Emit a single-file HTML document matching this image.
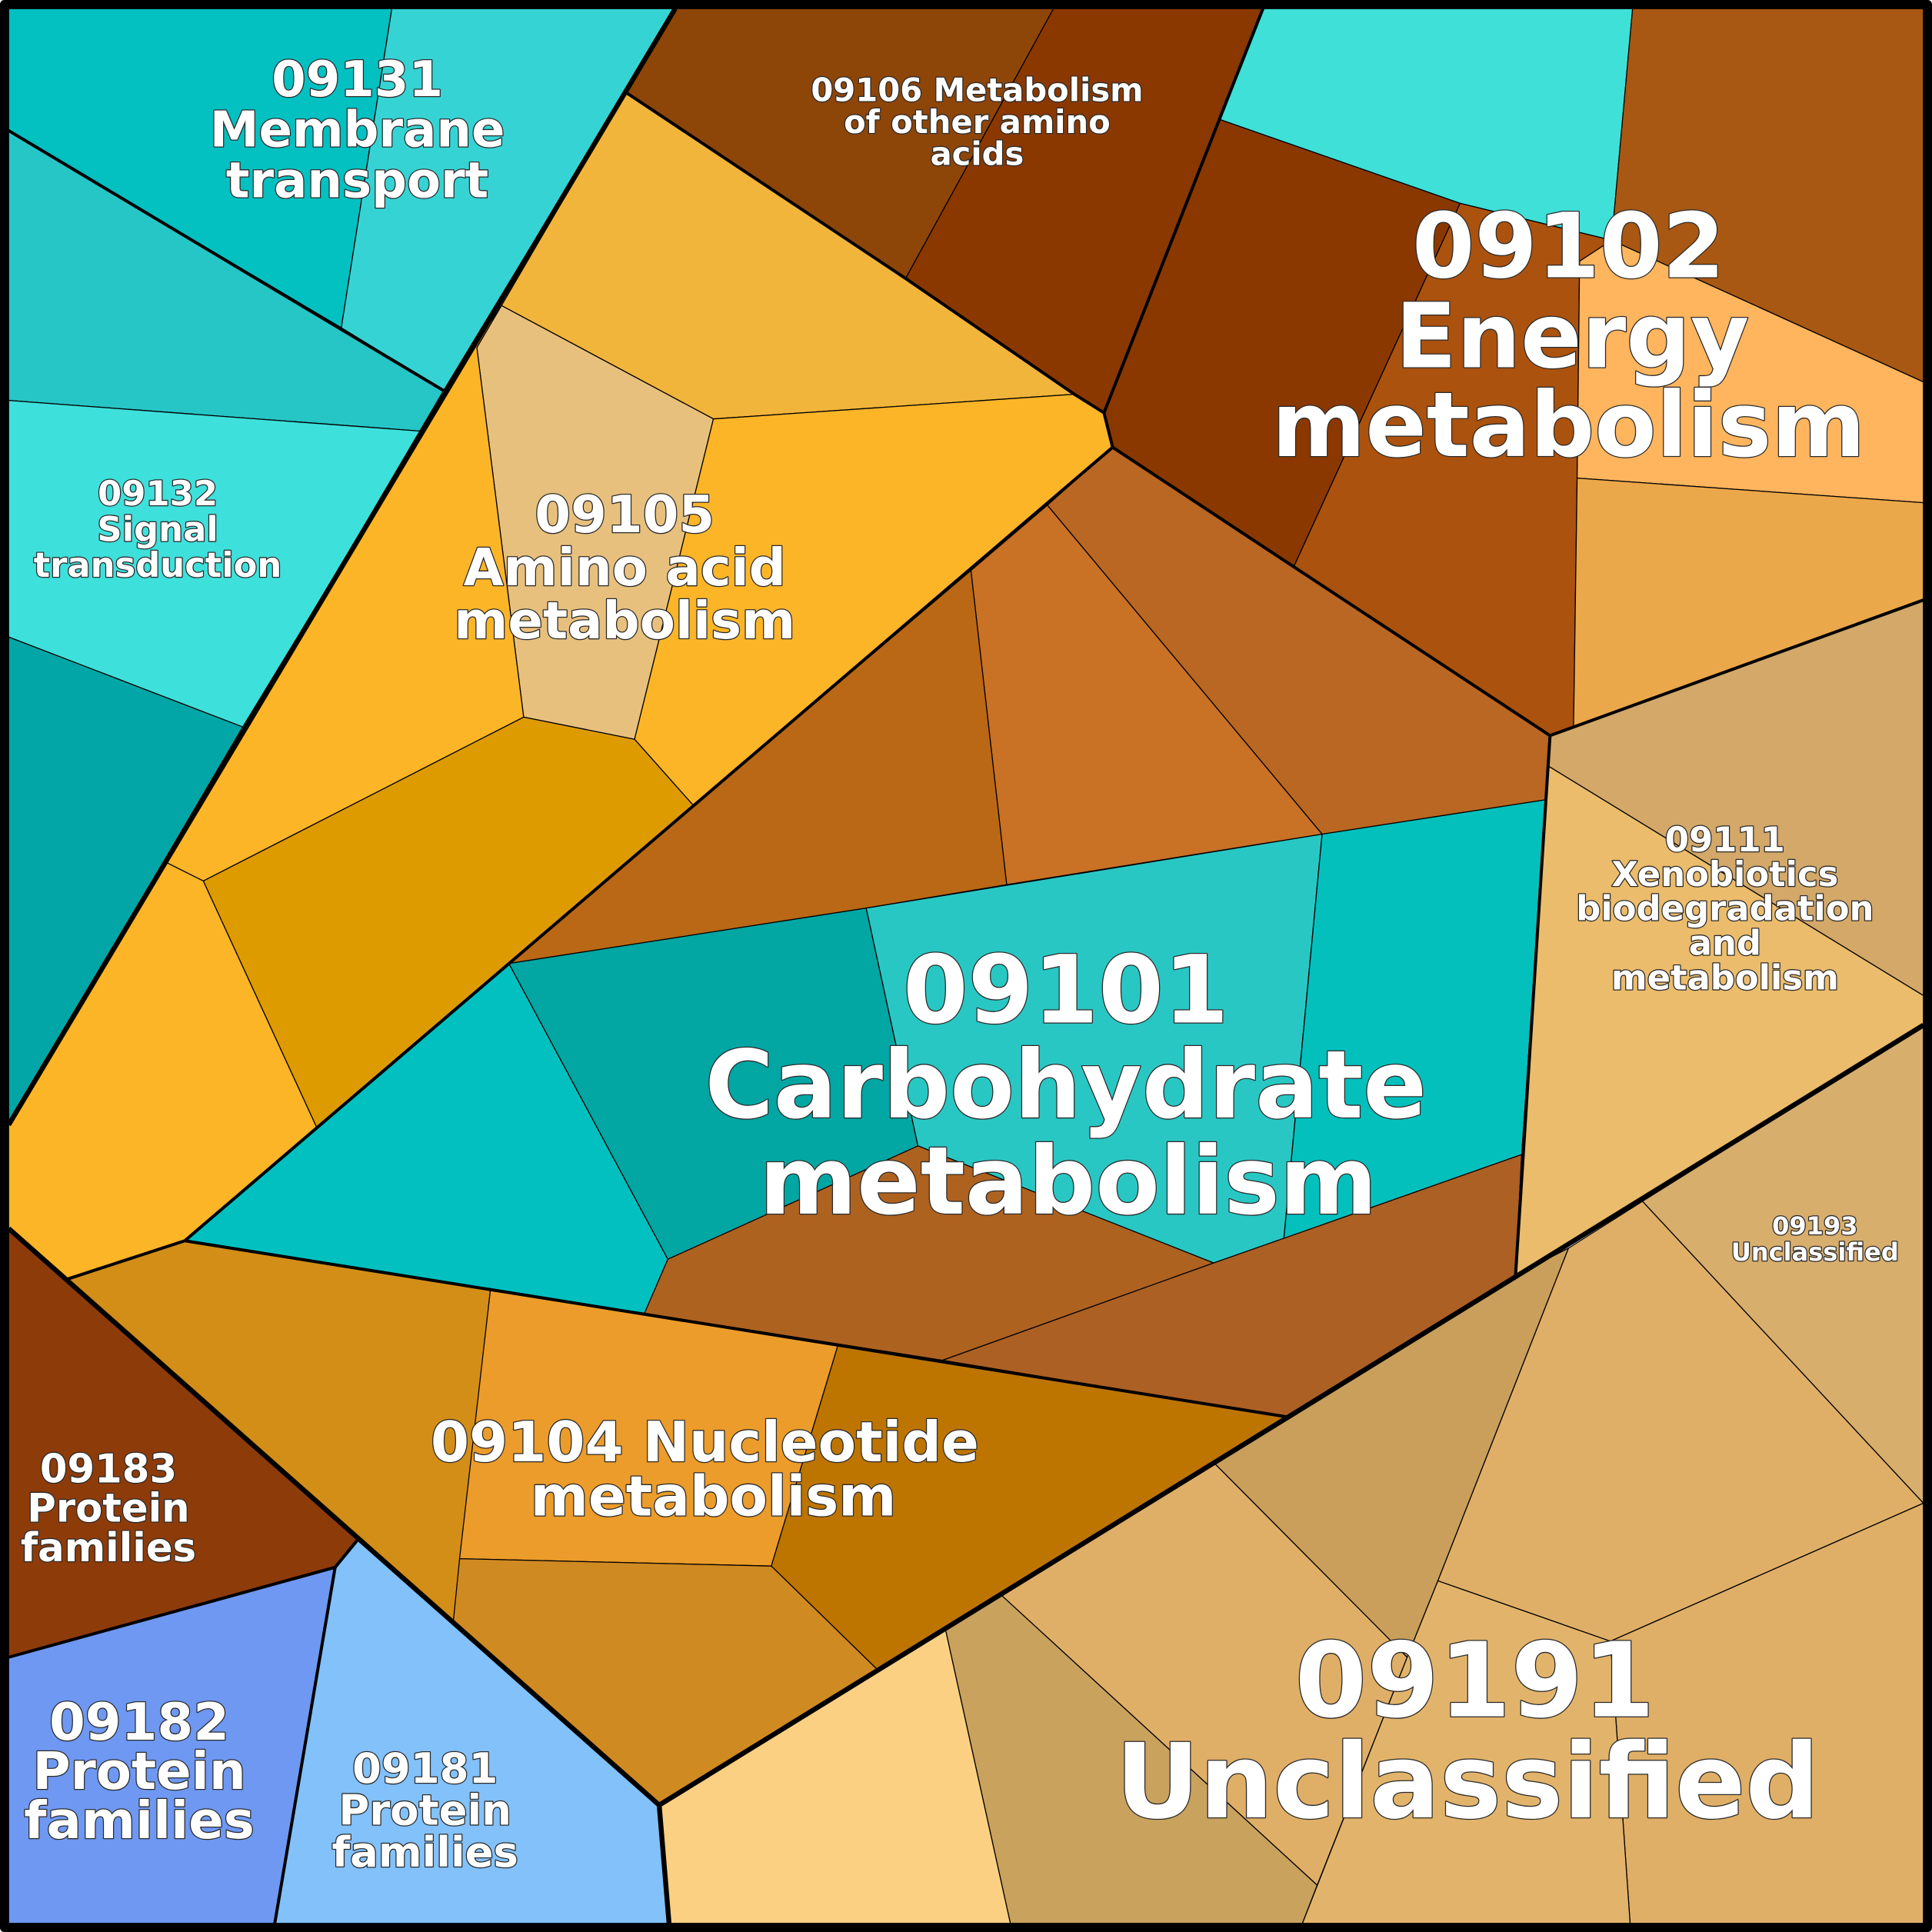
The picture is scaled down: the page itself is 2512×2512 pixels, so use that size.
<!DOCTYPE html>
<html><head><meta charset="utf-8"><style>
html,body{margin:0;padding:0;background:#fff}
svg{display:block}
text{font-family:"DejaVu Sans","Liberation Sans",sans-serif;font-weight:bold;fill:#fff;text-anchor:middle;paint-order:stroke;stroke:#2a2a2a;stroke-width:1.6;stroke-linejoin:round}
</style></head><body>
<svg width="2512" height="2512" viewBox="0 0 1568 1568" xmlns="http://www.w3.org/2000/svg">
<g stroke="#000" stroke-width="0.8" stroke-linejoin="round">
<polygon fill="#03c0c1" points="7,7 318,7 277,266 7,106"/>
<polygon fill="#36d3d4" points="318,7 548,7 360,317 277,266"/>
<polygon fill="#26c6c6" points="7,106 277,266 360,317 343,350 7,325"/>
<polygon fill="#3ee0db" points="7,325 343,350 197,590 7,517"/>
<polygon fill="#02a6a6" points="7,517 197,590 7,913"/>
<polygon fill="#8e4508" points="548,7 855,7 735,226 508,75"/>
<polygon fill="#8a3800" points="855,7 1025,7 896,335 872,320 735,226"/>
<polygon fill="#f2b53b" points="508,75 735,226 872,320 579,340 407,248"/>
<polygon fill="#e8c07e" points="407,248 579,340 515,600 425,582 387,282"/>
<polygon fill="#fdb528" points="407,248 387,282 425,582 165,715 135,700 360,317"/>
<polygon fill="#fdb528" points="579,340 872,320 896,335 903,363 563,654 515,600"/>
<polygon fill="#de9b00" points="425,582 515,600 563,654 257,915 165,715"/>
<polygon fill="#fdb528" points="135,700 165,715 257,915 150,1007 55,1038 7,997 7,913"/>
<polygon fill="#3ee0d8" points="1025,7 1325,7 1308,195 1185,165 990,97"/>
<polygon fill="#8a3800" points="990,97 1185,165 1050,460 903,363 896,335"/>
<polygon fill="#ab520f" points="1185,165 1308,195 1282,212 1280,388 1277,597 1258,597 1050,460"/>
<polygon fill="#a85812" points="1325,7 1561,7 1561,310 1308,195"/>
<polygon fill="#ffb55e" points="1308,195 1561,310 1561,408 1280,388 1282,212"/>
<polygon fill="#eba84a" points="1280,388 1561,408 1561,487 1277,597"/>
<polygon fill="#b96722" points="903,363 1050,460 1258,597 1255,649 1073,677 850,410"/>
<polygon fill="#c97125" points="850,410 1073,677 817,718 788,463"/>
<polygon fill="#ba6815" points="788,463 817,718 703,737 413,782 563,654"/>
<polygon fill="#02a6a3" points="413,782 703,737 745,930 542,1022"/>
<polygon fill="#29c7c4" points="703,737 1073,677 1042,1005 985,1025 820,960 745,930"/>
<polygon fill="#03c0bd" points="1073,677 1255,649 1235,937 1042,1005"/>
<polygon fill="#03c0c0" points="150,1007 257,915 413,782 542,1022 523,1066"/>
<polygon fill="#ae6220" points="542,1022 745,930 985,1025 765,1104 523,1066"/>
<polygon fill="#ad6023" points="765,1104 985,1025 1042,1005 1235,937 1230,1035 1045,1150"/>
<polygon fill="#d3a868" points="1258,597 1561,487 1561,808 1257,622"/>
<polygon fill="#ebbc6c" points="1257,622 1561,808 1561,832 1230,1035 1235,937 1255,649"/>
<polygon fill="#d8ae6d" points="1333,975 1561,832 1561,1220"/>
<polygon fill="#c99f5b" points="1045,1150 1230,1035 1273,1013 1167,1283 1142,1345 985,1187"/>
<polygon fill="#e0af67" points="1273,1013 1333,975 1561,1220 1307,1332 1167,1283"/>
<polygon fill="#e0af67" points="1307,1332 1561,1220 1561,1561 1323,1561"/>
<polygon fill="#e2b46b" points="1167,1283 1307,1332 1323,1561 1057,1561 1142,1345"/>
<polygon fill="#e0af67" points="812,1294 985,1187 1142,1345 1069,1530"/>
<polygon fill="#c9a25e" points="767,1321 812,1294 1069,1530 1057,1561 820,1561"/>
<polygon fill="#fbd083" points="535,1465 767,1321 820,1561 543,1561"/>
<polygon fill="#d38e17" points="55,1038 150,1007 398,1047 368,1315 290,1250"/>
<polygon fill="#ec9c2a" points="398,1047 680,1092 626,1271 373,1265"/>
<polygon fill="#bd7500" points="680,1092 1045,1150 712,1355 626,1271"/>
<polygon fill="#d08a22" points="373,1265 626,1271 712,1355 535,1465 368,1315"/>
<polygon fill="#8e3b0a" points="7,997 55,1038 290,1250 272,1272 7,1345"/>
<polygon fill="#6e98f2" points="7,1345 272,1272 223,1561 7,1561"/>
<polygon fill="#82c1fa" points="272,1272 290,1250 535,1465 543,1561 223,1561"/>
</g>
<g fill="none" stroke="#000" stroke-width="2.5" stroke-linejoin="round">
<polyline points="7,106 360,317"/>
<polyline points="508,75 735,226 872,320 896,335 903,363 1050,460 1258,597 1230,1035"/>
<polyline points="1025,7 896,335"/>
<polyline points="903,363 150,1007 55,1038"/>
<polyline points="1258,597 1561,487"/>
<polyline points="150,1007 1045,1150"/>
<polyline points="290,1250 272,1272 223,1561"/>
<polyline points="7,1345 272,1272"/>
</g>
<g fill="none" stroke="#000" stroke-width="4" stroke-linejoin="round">
<polyline points="548,7 7,913"/>
<polyline points="7,997 535,1465 543,1561"/>
<polyline points="535,1465 1561,832"/>
<rect x="3.5" y="3.5" width="1561" height="1561" stroke-width="7"/>
</g>
<text font-size="40"><tspan x="290" y="78">09131</tspan><tspan x="290" y="119">Membrane</tspan><tspan x="290" y="160">transport</tspan></text>
<text font-size="26"><tspan x="793" y="82">09106 Metabolism</tspan><tspan x="793" y="108">of other amino</tspan><tspan x="793" y="134">acids</tspan></text>
<text font-size="28"><tspan x="128" y="410">09132</tspan><tspan x="128" y="439">Signal</tspan><tspan x="128" y="468">transduction</tspan></text>
<text font-size="42"><tspan x="507" y="432">09105</tspan><tspan x="507" y="475">Amino acid</tspan><tspan x="507" y="518">metabolism</tspan></text>
<text font-size="73"><tspan x="1273" y="225">09102</tspan><tspan x="1276" y="298">Energy</tspan><tspan x="1273" y="370">metabolism</tspan></text>
<text font-size="76"><tspan x="865" y="830">09101</tspan><tspan x="865" y="907">Carbohydrate</tspan><tspan x="867" y="985">metabolism</tspan></text>
<text font-size="28"><tspan x="1400" y="691">09111</tspan><tspan x="1400" y="719">Xenobiotics</tspan><tspan x="1400" y="747">biodegradation</tspan><tspan x="1400" y="775">and</tspan><tspan x="1400" y="803">metabolism</tspan></text>
<text font-size="20"><tspan x="1473" y="1002">09193</tspan><tspan x="1473" y="1023">Unclassified</tspan></text>
<text font-size="45"><tspan x="572" y="1186">09104 Nucleotide</tspan><tspan x="579" y="1230">metabolism</tspan></text>
<text font-size="84"><tspan x="1197" y="1393">09191</tspan><tspan x="1191" y="1475">Unclassified</tspan></text>
<text font-size="32"><tspan x="88" y="1203">09183</tspan><tspan x="88" y="1235">Protein</tspan><tspan x="88" y="1267">families</tspan></text>
<text font-size="42"><tspan x="113" y="1412">09182</tspan><tspan x="113" y="1452">Protein</tspan><tspan x="113" y="1492">families</tspan></text>
<text font-size="34"><tspan x="345" y="1447">09181</tspan><tspan x="345" y="1481">Protein</tspan><tspan x="345" y="1515">families</tspan></text>
</svg>
</body></html>
